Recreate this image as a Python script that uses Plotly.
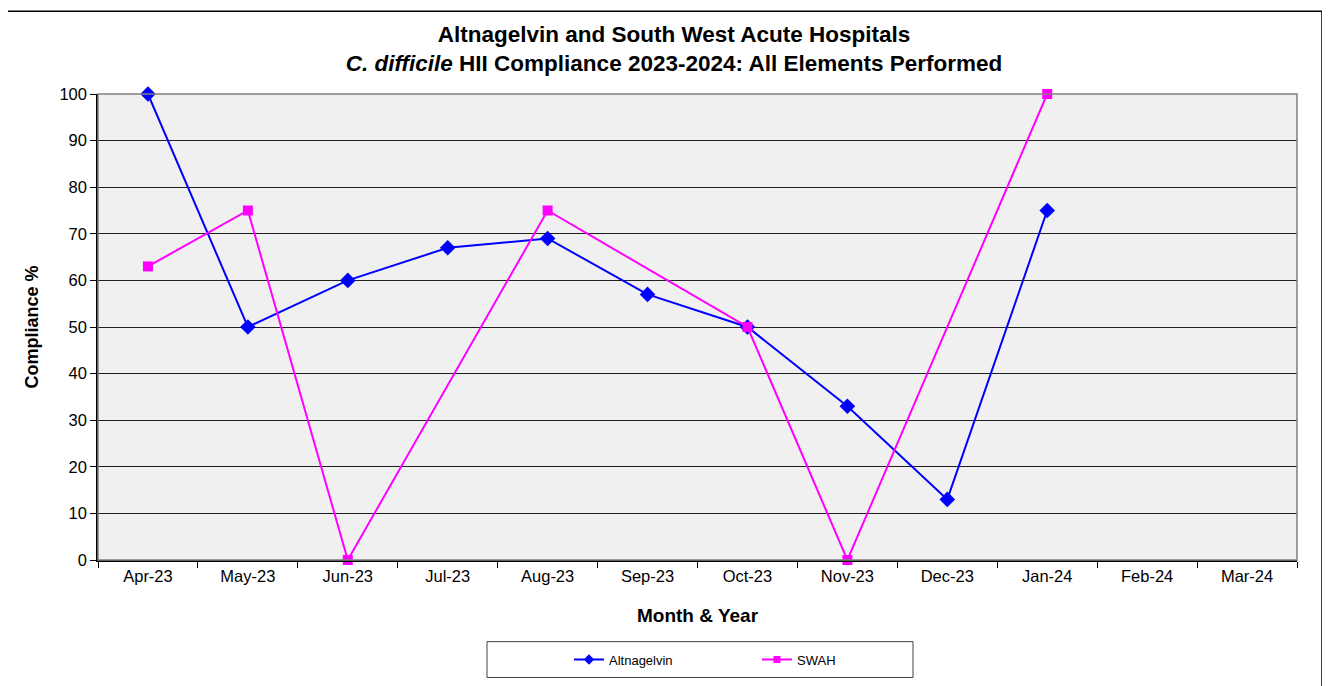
import plotly.graph_objects as go

months = ["Apr-23", "May-23", "Jun-23", "Jul-23", "Aug-23", "Sep-23",
          "Oct-23", "Nov-23", "Dec-23", "Jan-24", "Feb-24", "Mar-24"]
altnagelvin = [100, 50, 60, 67, 69, 57, 50, 33, 13, 75, None, None]
swah = [63, 75, 0, None, 75, None, 50, 0, None, 100, None, None]
series = [("Altnagelvin", altnagelvin, "#0000FF", "diamond", 12, 8),
          ("SWAH", swah, "#FF00FF", "square", 10, 7)]

FONT = "Arial, Liberation Sans, sans-serif"

fig = go.Figure()
for name, vals, color, sym, size, lsize in series:
    fig.add_trace(go.Scatter(x=months, y=vals, name=name, mode="lines+markers",
                             line=dict(color=color, width=2),
                             marker=dict(symbol=sym, size=size, color=color),
                             connectgaps=True, showlegend=False, cliponaxis=False))
for name, vals, color, sym, size, lsize in series:
    # legend entry with the smaller legend marker
    fig.add_trace(go.Scatter(x=[None], y=[None], name=name, mode="lines+markers",
                             line=dict(color=color, width=2),
                             marker=dict(symbol=sym, size=lsize, color=color),
                             showlegend=True))

OFF = 8  # page body margin
W, H = 1330 - OFF, 686 - OFF
L, R, T, B = 98, 1297, 94, 562  # plot area in screen pixels
pw, ph = R - L, B - T
def px(x): return (x - L) / pw
def py(y): return (B - y) / ph

shapes = [
    dict(type="rect", xref="paper", yref="paper", x0=px(7), x1=px(1322), y0=py(720), y1=py(11),
         line=dict(color="black", width=1.5), fillcolor="rgba(0,0,0,0)", layer="below"),
    dict(type="rect", xref="paper", yref="paper", x0=0, x1=1, y0=0, y1=1,
         line=dict(color="#808080", width=1.5), fillcolor="rgba(0,0,0,0)", layer="above"),
    dict(type="rect", xref="paper", yref="paper", x0=px(487), x1=px(913), y0=py(680), y1=py(644),
         line=dict(color="#404040", width=1), fillcolor="white"),
]

fig.update_layout(
    width=W, height=H,
    margin=dict(l=L - OFF, r=W - (R - OFF), t=T - OFF, b=H - (B - OFF)),
    paper_bgcolor="white", plot_bgcolor="#F0F0F0",
    font=dict(family=FONT, color="black"),
    title=dict(text="<b>Altnagelvin and South West Acute Hospitals<br><i>C. difficile</i> HII Compliance 2023-2024: All Elements Performed</b>",
               x=(674 - OFF) / W, xanchor="center", y=1 - 34 / H, yanchor="top",
               font=dict(size=22.5, family=FONT)),
    showlegend=True,
    legend=dict(orientation="h", x=px(569), xanchor="left", y=py(662), yanchor="middle",
                bgcolor="rgba(0,0,0,0)", borderwidth=0, entrywidth=143, entrywidthmode="pixels",
                font=dict(size=13, family=FONT), itemsizing="trace"),
    shapes=shapes,
)
fig.update_xaxes(type="category", categoryorder="array", categoryarray=months,
                 range=[-0.5, 11.5], tickson="boundaries", ticks="outside", ticklen=6,
                 tickcolor="black", showline=True, linecolor="black", linewidth=1.5,
                 showgrid=False, tickfont=dict(size=16.5),
                 title=dict(text="<b>Month & Year</b>", font=dict(size=19), standoff=25))
fig.update_yaxes(range=[0, 100], dtick=10, ticks="outside", ticklen=6, tickcolor="black",
                 showline=True, linecolor="black", linewidth=1.5,
                 showgrid=True, gridcolor="#202020", gridwidth=1, zeroline=False,
                 tickfont=dict(size=16.5),
                 title=dict(text="<b>Compliance %</b>", font=dict(size=18), standoff=16))

fig.write_html("out.html")
